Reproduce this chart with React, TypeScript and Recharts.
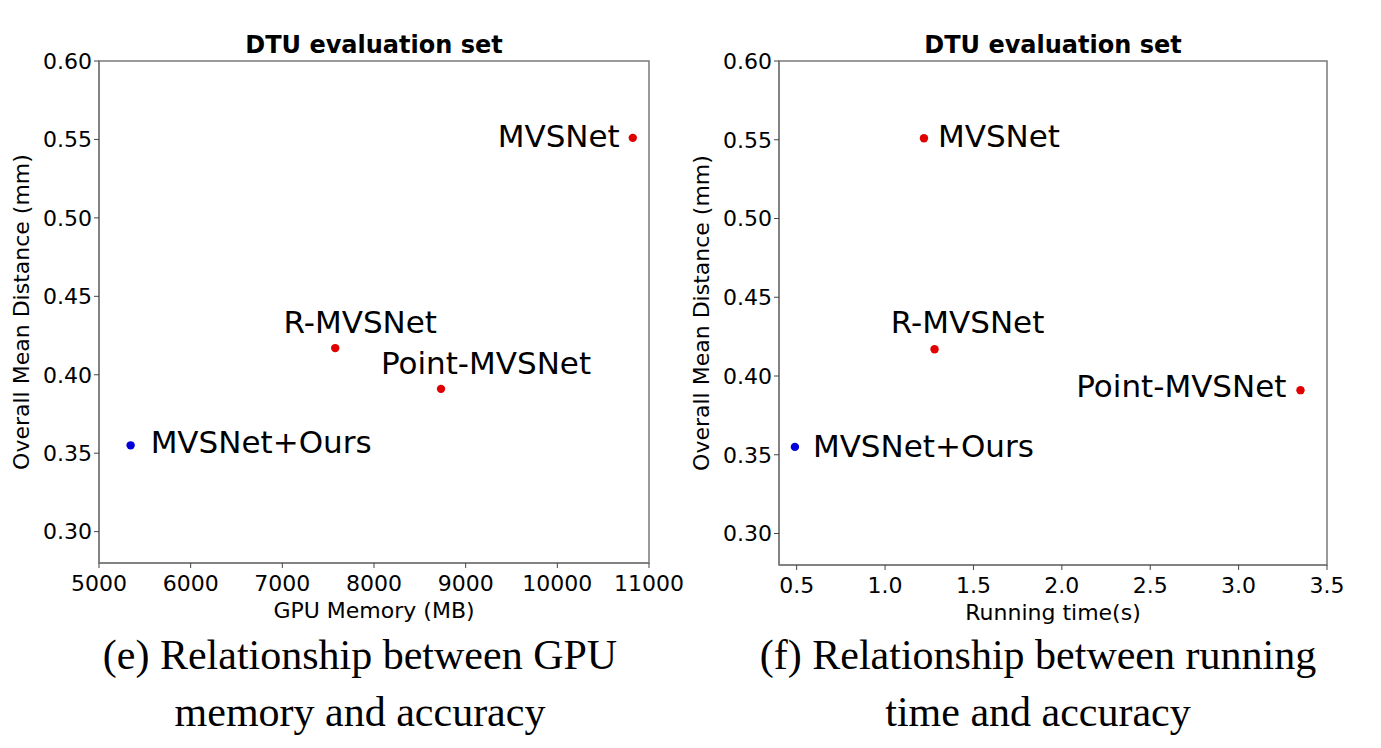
import React from "react";
import {
  ScatterChart,
  Scatter,
  XAxis,
  YAxis,
  Cell,
  Label,
  ReferenceArea,
} from "recharts";

// values
const methods = ["MVSNet", "R-MVSNet", "Point-MVSNet", "MVSNet+Ours"];
const gpuMemory = [10823, 7577, 8731, 5345];
const runningTime = [1.22, 1.28, 3.35, 0.49];
const overallDistance = [0.551, 0.417, 0.391, 0.355];

const distanceTicks = [0.3, 0.35, 0.4, 0.45, 0.5, 0.55, 0.6];
const memoryTicks = [5000, 6000, 7000, 8000, 9000, 10000, 11000];
const timeTicks = [0.5, 1.0, 1.5, 2.0, 2.5, 3.0, 3.5];

const memoryData = methods.map((name, i) => ({ name, x: gpuMemory[i], y: overallDistance[i] }));
const timeData = methods.map((name, i) => ({ name, x: runningTime[i], y: overallDistance[i] }));

const FONT = "DejaVu Sans, sans-serif";
const RED = "#e00000";
const BLUE = "#0000d8";
const FRAME = "#7a7a7a";

// where each method's label sits next to its dot
type Place = { anchor: "start" | "middle" | "end"; dx: number; dy: number };
const memoryPlaces: Record<string, Place> = {
  MVSNet: { anchor: "end", dx: -13, dy: -2 },
  "R-MVSNet": { anchor: "middle", dx: 25, dy: -26 },
  "Point-MVSNet": { anchor: "middle", dx: 45, dy: -26 },
  "MVSNet+Ours": { anchor: "start", dx: 20, dy: -3 },
};
const timePlaces: Record<string, Place> = {
  MVSNet: { anchor: "start", dx: 14, dy: -2 },
  "R-MVSNet": { anchor: "middle", dx: 33, dy: -27 },
  "Point-MVSNet": { anchor: "end", dx: -14, dy: -4 },
  "MVSNet+Ours": { anchor: "start", dx: 18, dy: -1 },
};

const makeShape = (places: Record<string, Place>) => (props: any) => {
  const { cx, cy, fill, payload } = props;
  const p = places[payload.name];
  return (
    <g>
      <circle cx={cx} cy={cy} r={4.2} fill={fill} />
      <text
        x={cx + p.dx}
        y={cy + p.dy}
        textAnchor={p.anchor}
        dominantBaseline="central"
        fontFamily={FONT}
        fontSize={31}
        fill="#000"
      >
        {payload.name}
      </text>
    </g>
  );
};

const tickStyle = { fontSize: 22, fill: "#000", fontFamily: FONT };

interface PanelProps {
  data: { name: string; x: number; y: number }[];
  xDomain: [number, number];
  xTicks: number[];
  xFormat: (v: number) => string;
  xLabel: string;
  places: Record<string, Place>;
  marginRight: number;
  xAxisHeight: number;
}

const Panel: React.FC<PanelProps> = ({ data, xDomain, xTicks, xFormat, xLabel, places, marginRight, xAxisHeight }) => (
  <ScatterChart width={700} height={640} margin={{ top: 61, right: marginRight, bottom: 0, left: 39 }}>
    <ReferenceArea
      x1={xDomain[0]}
      x2={xDomain[1]}
      y1={0.28}
      y2={0.6}
      fill="none"
      stroke={FRAME}
      strokeWidth={1.5}
    />
    <XAxis
      type="number"
      dataKey="x"
      domain={xDomain}
      ticks={xTicks}
      tickFormatter={xFormat}
      allowDataOverflow
      height={xAxisHeight}
      tick={tickStyle}
      tickSize={5}
      tickMargin={7}
      interval={0}
      axisLine={{ stroke: FRAME, strokeWidth: 1.5 }}
      tickLine={{ stroke: "#444" }}
    >
      <Label
        content={(p: any) => (
          <text
            x={p.viewBox.x + p.viewBox.width / 2}
            y={p.viewBox.y + 55}
            textAnchor="middle"
            fontFamily={FONT}
            fontSize={22}
            fill="#000"
          >
            {xLabel}
          </text>
        )}
      />
    </XAxis>
    <YAxis
      type="number"
      dataKey="y"
      domain={[0.28, 0.6]}
      ticks={distanceTicks}
      tickFormatter={(v: number) => v.toFixed(2)}
      allowDataOverflow
      width={60}
      tick={tickStyle}
      tickSize={5}
      tickMargin={2}
      interval={0}
      axisLine={{ stroke: FRAME, strokeWidth: 1.5 }}
      tickLine={{ stroke: "#444" }}
    >
      <Label
        content={(p: any) => {
          const cy = p.viewBox.y + p.viewBox.height / 2;
          return (
            <text
              x={21}
              y={cy}
              transform={`rotate(-90, 21, ${cy})`}
              textAnchor="middle"
              dominantBaseline="central"
              fontFamily={FONT}
              fontSize={22}
              fill="#000"
            >
              Overall Mean Distance (mm)
            </text>
          );
        }}
      />
    </YAxis>
    <Scatter data={data} shape={makeShape(places)} isAnimationActive={false}>
      {data.map((d) => (
        <Cell key={d.name} fill={d.name === "MVSNet+Ours" ? BLUE : RED} />
      ))}
    </Scatter>
  </ScatterChart>
);

const titleStyle: React.CSSProperties = {
  position: "absolute",
  top: 30,
  width: 400,
  lineHeight: "30px",
  textAlign: "center",
  fontFamily: FONT,
  fontWeight: "bold",
  fontSize: 24,
  color: "#000",
};

const captionStyle: React.CSSProperties = {
  position: "absolute",
  top: 627,
  width: 680,
  lineHeight: "57px",
  textAlign: "center",
  fontFamily: "Liberation Serif, Times New Roman, serif",
  fontSize: 42,
  color: "#000",
};

export default function App() {
  return (
    <div style={{ position: "absolute", left: 0, top: 0, width: 1381, height: 748, background: "#fff", overflow: "hidden" }}>
      <div style={{ position: "absolute", left: 0, top: 0 }}>
        <Panel
          data={memoryData}
          xDomain={[5000, 11000]}
          xTicks={memoryTicks}
          xFormat={(v) => String(v)}
          xLabel="GPU Memory (MB)"
          places={memoryPlaces}
          marginRight={51}
          xAxisHeight={77}
        />
      </div>
      <div style={{ position: "absolute", left: 680, top: 0 }}>
        <Panel
          data={timeData}
          xDomain={[0.4, 3.5]}
          xTicks={timeTicks}
          xFormat={(v) => v.toFixed(1)}
          xLabel="Running time(s)"
          places={timePlaces}
          marginRight={53}
          xAxisHeight={75}
        />
      </div>
      <div style={{ ...titleStyle, left: 374 - 200 }}>DTU evaluation set</div>
      <div style={{ ...titleStyle, left: 1053 - 200 }}>DTU evaluation set</div>
      <div style={{ ...captionStyle, left: 360 - 340 }}>
        (e) Relationship between GPU
        <br />
        memory and accuracy
      </div>
      <div style={{ ...captionStyle, left: 1038 - 340 }}>
        (f) Relationship between running
        <br />
        time and accuracy
      </div>
    </div>
  );
}
